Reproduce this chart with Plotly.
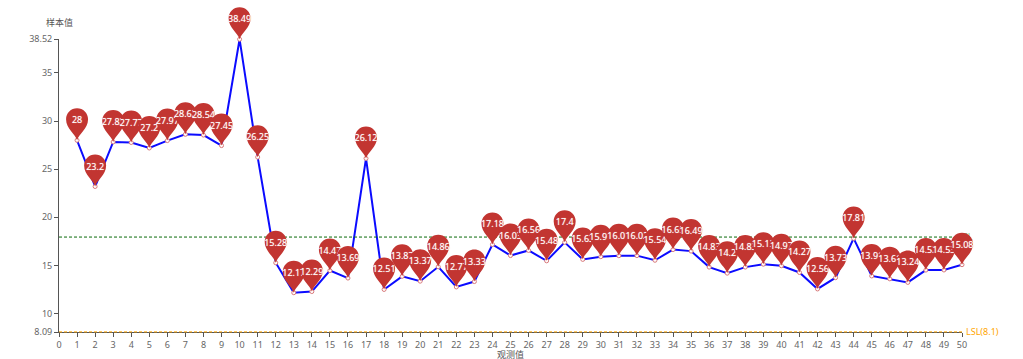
import plotly.graph_objects as go

obs = list(range(1, 51))
values = [28, 23.2, 27.83, 27.77, 27.2, 27.97, 28.62, 28.54, 27.45, 38.49,
          26.25, 15.28, 12.17, 12.29, 14.47, 13.69, 26.12, 12.51, 13.87, 13.37,
          14.86, 12.77, 13.33, 17.18, 16.03, 16.56, 15.48, 17.4, 15.63, 15.91,
          16.01, 16.02, 15.54, 16.65, 16.49, 14.83, 14.2, 14.83, 15.13, 14.97,
          14.27, 12.56, 13.73, 17.81, 13.91, 13.61, 13.24, 14.52, 14.53, 15.08]
cl_value = 17.95
lsl_value = 8.1
y_min, y_max = 8.09, 38.52
y_ticks = [8.09, 10, 15, 20, 25, 30, 35, 38.52]
x_ticks = list(range(0, 51))

PIN = ("M 0 0 C -1.5 6 -11 11.5 -11 21 C -11 27.1 -6.1 32 0 32 "
       "C 6.1 32 11 27.1 11 21 C 11 11.5 1.5 6 0 0 Z")
FONT = "Noto Sans, Open Sans, sans-serif"

fig = go.Figure()
fig.add_trace(go.Scatter(
    x=obs, y=values, mode="lines+markers", cliponaxis=False,
    line=dict(color="#0b0bff", width=2),
    marker=dict(symbol="circle", size=4, color="#ffffff", line=dict(color="#d9797a", width=1)),
    hoverinfo="x+y", showlegend=False,
))

shapes = [
    dict(type="line", xref="x", yref="y", x0=0, x1=50, y0=cl_value, y1=cl_value,
         line=dict(color="#0a6b0a", width=1, dash="3px,2px"), layer="above",
         label=dict(text="CL", font=dict(color="#7fbf7f", size=9, family=FONT),
                    textposition="end", xanchor="left", yanchor="middle", padding=5)),
    dict(type="line", xref="x", yref="y", x0=0, x1=50, y0=lsl_value, y1=lsl_value,
         line=dict(color="#ffa500", width=1, dash="3px,2px"), layer="above"),
]
for x, v in zip(obs, values):
    shapes.append(dict(
        type="path", xref="x", yref="y", xsizemode="pixel", ysizemode="pixel",
        xanchor=x, yanchor=v, path=PIN, fillcolor="#c23531",
        line=dict(width=0), layer="above",
        label=dict(text=str(v),
                   font=dict(color="#ffffff", size=9, family=FONT, shadow="0 0 1px #e8a8a6"),
                   textposition="top center", yanchor="top", padding=6),
    ))

annotations = [
    dict(x=50, y=lsl_value, xref="x", yref="y", text="LSL(8.1)", showarrow=False, xanchor="left",
         xshift=2, font=dict(color="#ffa500", size=9, family=FONT)),
    dict(x=0, y=y_max, xref="x", yref="y", yanchor="bottom", xanchor="center", text="样本值", showarrow=False,
         yshift=8, font=dict(color="#555555", size=9, family="Noto Sans CJK SC")),
    dict(x=25, y=y_min, xref="x", yref="y", yanchor="top", xanchor="center", text="观测值", showarrow=False,
         yshift=-15, borderpad=0, font=dict(color="#555555", size=9, family="Noto Sans CJK SC")),
]

axis_common = dict(showgrid=False, zeroline=False, showline=True, linecolor="#555555", linewidth=1,
                   ticks="outside", ticklen=4, tickcolor="#555555", tickwidth=1,
                   tickfont=dict(color="#666666", size=9, family=FONT))
fig.update_layout(
    width=1023, height=379, autosize=False,
    margin=dict(l=59, r=61, t=39, b=47), plot_bgcolor="#ffffff", paper_bgcolor="#ffffff",
    xaxis=dict(range=[0, 50], tickmode="array", tickvals=x_ticks, ticktext=[str(t) for t in x_ticks], **axis_common),
    yaxis=dict(range=[y_min, y_max], tickmode="array", tickvals=y_ticks, ticktext=[str(t) for t in y_ticks], **axis_common),
    shapes=shapes, annotations=annotations,
)
fig.write_html("out.html", config=dict(displayModeBar=False),
               post_script="document.documentElement.style.overflow='hidden';document.body.style.margin='0';document.body.style.overflow='hidden';"
                           "document.querySelectorAll('.shapelayer [clip-path]').forEach(function(e){e.removeAttribute('clip-path');});")
